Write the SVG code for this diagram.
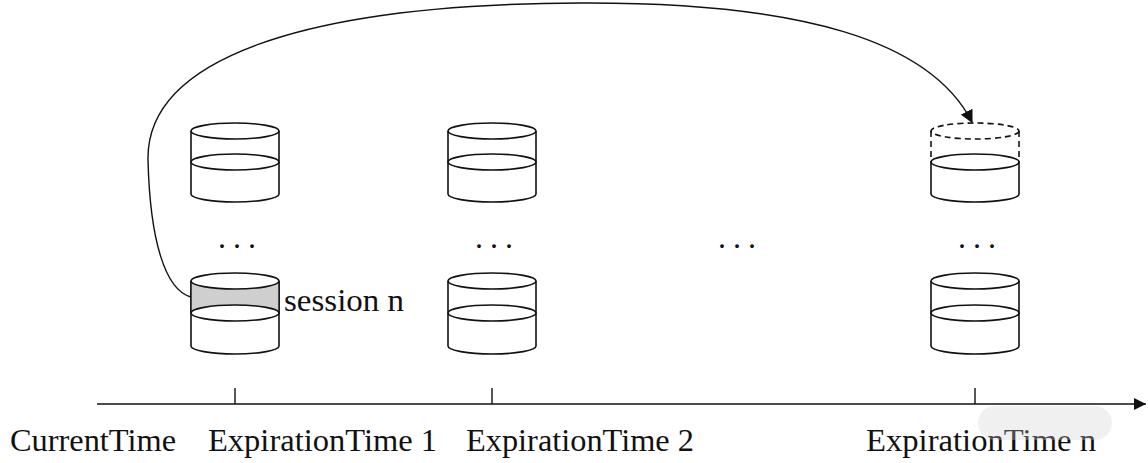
<svg xmlns="http://www.w3.org/2000/svg" width="1148" height="463" viewBox="0 0 1148 463">
<defs>
<style>
.cyl{fill:#fff;stroke:#111;stroke-width:1.6}
.dash{fill:none;stroke:#111;stroke-width:1.6;stroke-dasharray:6,4}
.lbl{font-family:"Liberation Serif","Times New Roman",serif;font-size:32px;fill:#111}
.dots{font-family:"Liberation Serif",serif;font-size:32px;fill:#111;letter-spacing:7px}
.ax{stroke:#111;stroke-width:1.4;fill:none}
</style>
<marker id="arr" viewBox="0 0 10 10" refX="9" refY="5" markerWidth="13" markerHeight="13" orient="auto" markerUnits="userSpaceOnUse">
<path d="M0,0 L10,5 L0,10 Z" fill="#111"/>
</marker>
<marker id="axarr" viewBox="0 0 10 10" refX="10" refY="5" markerWidth="12" markerHeight="12" orient="auto" markerUnits="userSpaceOnUse">
<path d="M0,0 L10,5 L0,10 Z" fill="#111"/>
</marker>
</defs>
<rect width="1148" height="463" fill="#fff"/>

<g id="cyl1a">
<path class="cyl" d="M191,131 V194 A44,8 0 0 0 279,194 V131"/>
<ellipse class="cyl" cx="235" cy="162" rx="44" ry="8"/>
<ellipse class="cyl" cx="235" cy="131" rx="44" ry="8"/>
</g>
<g id="cyl1b">
<path class="cyl" d="M191,281 V346 A44,8 0 0 0 279,346 V281"/>
<path d="M191,281 V313 A44,8 0 0 0 279,313 V281 Z" fill="#cfcfcf" stroke="none"/>
<path d="M191,281 V313 M279,281 V313" class="ax" stroke-width="1.6"/>
<ellipse class="cyl" cx="235" cy="313" rx="44" ry="8"/>
<ellipse class="cyl" cx="235" cy="281" rx="44" ry="8" fill="#c4c4c4"/>
<text class="lbl" x="284" y="311" font-size="34" textLength="120" lengthAdjust="spacingAndGlyphs">session n</text>
</g>
<g id="cyl2a">
<path class="cyl" d="M448,131 V194 A44,8 0 0 0 536,194 V131"/>
<ellipse class="cyl" cx="492" cy="162" rx="44" ry="8"/>
<ellipse class="cyl" cx="492" cy="131" rx="44" ry="8"/>
</g>
<g id="cyl2b">
<path class="cyl" d="M448,281 V346 A44,8 0 0 0 536,346 V281"/>
<ellipse class="cyl" cx="492" cy="313" rx="44" ry="8"/>
<ellipse class="cyl" cx="492" cy="281" rx="44" ry="8"/>
</g>
<g id="cylna">
<path class="dash" d="M931,131 V162 M1019,131 V162"/>
<ellipse class="dash" cx="975" cy="131" rx="44" ry="8"/>
<path class="cyl" d="M931,162 V194 A44,8 0 0 0 1019,194 V162"/>
<ellipse class="cyl" cx="975" cy="162" rx="44" ry="8"/>
</g>
<g id="cylnb">
<path class="cyl" d="M931,281 V346 A44,8 0 0 0 1019,346 V281"/>
<ellipse class="cyl" cx="975" cy="313" rx="44" ry="8"/>
<ellipse class="cyl" cx="975" cy="281" rx="44" ry="8"/>
</g>

<g id="dots">
<text class="dots" x="218" y="248">...</text>
<text class="dots" x="475" y="248">...</text>
<text class="dots" x="718" y="248">...</text>
<text class="dots" x="958" y="248">...</text>
</g>

<g id="connectors">
<path class="ax" d="M191,297 C165,290 150,240 148,160 C146,60 300,4 580,3 C800,2 930,40 972,122" marker-end="url(#arr)" stroke-width="1.5"/>
</g>

<g id="axis">
<line class="ax" x1="97" y1="404" x2="1146" y2="404" stroke-width="2.2" marker-end="url(#axarr)"/>
<line class="ax" x1="235" y1="388" x2="235" y2="404"/>
<line class="ax" x1="492" y1="388" x2="492" y2="404"/>
<line class="ax" x1="975" y1="388" x2="975" y2="404"/>
<text class="lbl" x="10" y="451" textLength="166" lengthAdjust="spacingAndGlyphs">CurrentTime</text>
<text class="lbl" x="208" y="451" textLength="229" lengthAdjust="spacingAndGlyphs">ExpirationTime 1</text>
<text class="lbl" x="466" y="451" textLength="228" lengthAdjust="spacingAndGlyphs">ExpirationTime 2</text>
<text class="lbl" x="866" y="451" textLength="230" lengthAdjust="spacingAndGlyphs">ExpirationTime n</text>
</g>

<g id="watermark" opacity="0.3">
<rect x="978" y="406" width="134" height="34" rx="17" fill="#cccccc"/>
</g>
</svg>
